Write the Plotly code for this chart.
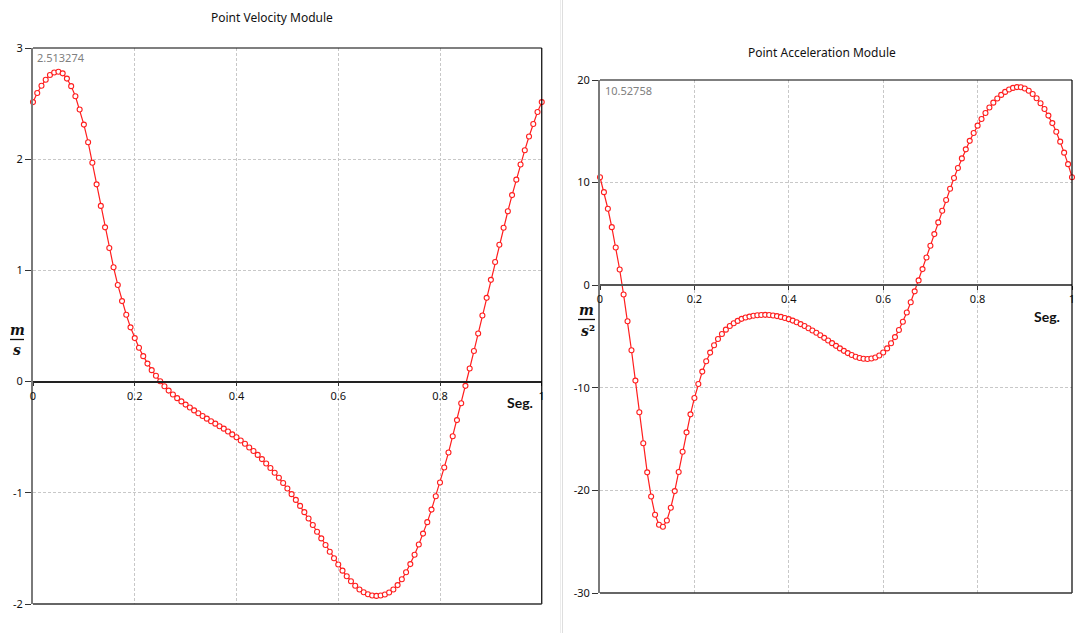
import plotly.graph_objects as go

W, H = 1076, 633

# ---------------- data ----------------
n_steps = 120
time_s = [i / n_steps for i in range(n_steps + 1)]

velocity = [
    2.513274, 2.595, 2.660, 2.715, 2.757, 2.780, 2.787, 2.772, 2.725, 2.657,
    2.566, 2.447, 2.311, 2.153, 1.968, 1.774, 1.580, 1.387, 1.202, 1.028,
    0.869, 0.724, 0.601, 0.488, 0.391, 0.304, 0.229, 0.162, 0.103, 0.052,
    0.003, -0.042, -0.081, -0.116, -0.149, -0.178, -0.207, -0.233, -0.259, -0.284,
    -0.310, -0.333, -0.356, -0.378, -0.401, -0.423, -0.449, -0.475, -0.501, -0.530,
    -0.559, -0.592, -0.624, -0.659, -0.697, -0.736, -0.777, -0.820, -0.865, -0.912,
    -0.961, -1.012, -1.064, -1.118, -1.174, -1.231, -1.290, -1.350, -1.410, -1.470,
    -1.530, -1.589, -1.645, -1.700, -1.750, -1.796, -1.836, -1.869, -1.894, -1.912,
    -1.923, -1.927, -1.924, -1.914, -1.897, -1.870, -1.830, -1.778, -1.714, -1.641,
    -1.557, -1.465, -1.367, -1.264, -1.151, -1.031, -0.907, -0.772, -0.638, -0.492,
    -0.346, -0.195, -0.038, 0.118, 0.275, 0.433, 0.595, 0.753, 0.915, 1.076,
    1.231, 1.383, 1.532, 1.677, 1.816, 1.952, 2.081, 2.204, 2.317, 2.424,
    2.513274,
]

acceleration = [
    10.52758, 9.07, 7.45, 5.66, 3.67, 1.53, -0.91, -3.51, -6.34, -9.30,
    -12.39, -15.41, -18.24, -20.59, -22.37, -23.35, -23.54, -22.93, -21.69, -20.07,
    -18.21, -16.23, -14.34, -12.59, -10.99, -9.63, -8.42, -7.41, -6.57, -5.85,
    -5.24, -4.75, -4.33, -3.97, -3.71, -3.48, -3.28, -3.15, -3.06, -2.98,
    -2.93, -2.90, -2.89, -2.91, -2.95, -3.01, -3.09, -3.19, -3.31, -3.45,
    -3.61, -3.79, -3.98, -4.19, -4.41, -4.64, -4.88, -5.13, -5.39, -5.65,
    -5.91, -6.16, -6.40, -6.62, -6.81, -6.97, -7.09, -7.17, -7.19, -7.15,
    -7.04, -6.85, -6.56, -6.16, -5.66, -5.06, -4.36, -3.56, -2.66, -1.66,
    -0.60, 0.47, 1.57, 2.70, 3.84, 4.98, 6.12, 7.26, 8.30, 9.40,
    10.45, 11.43, 12.36, 13.24, 14.07, 14.84, 15.55, 16.20, 16.79, 17.32,
    17.79, 18.20, 18.55, 18.84, 19.07, 19.23, 19.31, 19.30, 19.17, 18.95,
    18.63, 18.22, 17.73, 17.17, 16.53, 15.80, 14.96, 13.99, 12.92, 11.80,
    10.52758,
]

x_ticks = [0, 0.2, 0.4, 0.6, 0.8, 1]
x_tick_labels = ["0", "0.2", "0.4", "0.6", "0.8", "1"]
vel_ticks = [-2, -1, 0, 1, 2, 3]
vel_tick_labels = ["-2", "-1", "0", "1", "2", "3"]
acc_ticks = [-30, -20, -10, 0, 10, 20]
acc_tick_labels = ["-30", "-20", "-10", "0", "10", "20"]

title_left = "Point Velocity Module"
title_right = "Point Acceleration Module"
first_vel_label = "2.513274"
first_acc_label = "10.52758"
x_unit = "Seg."

# ---------------- helpers (layout only) ----------------
def px(x):
    return x / W

def py(y):
    return 1 - y / H

RED = "rgb(255,30,30)"
GRID = "#c8c8c8"
TICKFONT = dict(family="Noto Sans, DejaVu Sans, sans-serif", size=11, color="#111")

fig = go.Figure()

marker = dict(symbol="circle", size=5, color="white", line=dict(color=RED, width=1.1))

fig.add_trace(go.Scatter(x=time_s, y=velocity, mode="lines+markers",
                         line=dict(color=RED, width=1.2), marker=marker,
                         xaxis="x", yaxis="y", cliponaxis=False, showlegend=False))
fig.add_trace(go.Scatter(x=time_s, y=acceleration, mode="lines+markers",
                         line=dict(color=RED, width=1.2), marker=marker,
                         xaxis="x2", yaxis="y2", cliponaxis=False, showlegend=False))

# panel geometry in pixels
L = dict(x0=33, x1=541.75, y_top=48, y_bot=604, ymin=-2, ymax=3)
R = dict(x0=600, x1=1072, y_top=80, y_bot=593, ymin=-30, ymax=20)

def zero_pos(p):
    frac = (0 - p["ymin"]) / (p["ymax"] - p["ymin"])
    y_px = p["y_bot"] - frac * (p["y_bot"] - p["y_top"])
    return py(y_px)

def xaxis_cfg(p, linecolor):
    return dict(
        domain=[px(p["x0"]), px(p["x1"])], range=[0, 1],
        anchor="free", position=zero_pos(p), automargin=False,
        showline=True, linecolor=linecolor, linewidth=1.5,
        ticks="outside", ticklen=4, tickcolor="#333", tickwidth=1,
        tickvals=x_ticks, ticktext=x_tick_labels, tickfont=TICKFONT,
        showgrid=True, gridcolor=GRID, griddash="3px,2px", gridwidth=1,
        zeroline=False, fixedrange=True,
    )

def yaxis_cfg(p, ticks, labels, anchor):
    return dict(
        domain=[py(p["y_bot"]), py(p["y_top"])], range=[p["ymin"], p["ymax"]],
        anchor=anchor, automargin=False, showline=True, linecolor="#7a7a7a", linewidth=2,
        ticks="outside", ticklen=6, tickcolor="#333", tickwidth=1,
        tickvals=ticks, ticktext=labels, tickfont=TICKFONT,
        showgrid=True, gridcolor=GRID, griddash="3px,2px", gridwidth=1,
        zeroline=False, fixedrange=True,
    )

shapes = []
for xr, yr in (("x", "y"), ("x2", "y2")):
    xd, yd = xr + " domain", yr + " domain"
    shapes.append(dict(type="line", xref=xd, yref=yd, x0=0, x1=1, y0=1, y1=1,
                       line=dict(color="#000", width=1.2)))
    shapes.append(dict(type="line", xref=xd, yref=yd, x0=1, x1=1, y0=0, y1=1,
                       line=dict(color="#000", width=1.2)))
    shapes.append(dict(type="line", xref=xd, yref=yd, x0=0, x1=1, y0=0, y1=0,
                       line=dict(color="#333", width=1.5)))

# separator between the two panels
shapes.append(dict(type="line", xref="paper", yref="paper", x0=px(560.5), x1=px(560.5),
                   y0=0, y1=1, line=dict(color="#ececec", width=1)))
shapes.append(dict(type="line", xref="paper", yref="paper", x0=px(562.5), x1=px(562.5),
                   y0=0, y1=1, line=dict(color="#dedede", width=1)))

# fraction bars for units
shapes.append(dict(type="line", xref="paper", yref="paper", x0=px(10), x1=px(24),
                   y0=py(339.5), y1=py(339.5), line=dict(color="#111", width=1.3)))
shapes.append(dict(type="line", xref="paper", yref="paper", x0=px(578), x1=px(595),
                   y0=py(319.5), y1=py(319.5), line=dict(color="#111", width=1.3)))

TITLEFONT = dict(family="Noto Sans, DejaVu Sans, sans-serif", size=12, color="#111")
UNITFONT = dict(family="DejaVu Serif, Liberation Serif, serif", size=14, color="#111")
SEGFONT = dict(family="Lato, Open Sans, sans-serif", size=14, color="#111")
VALFONT = dict(family="Noto Sans, DejaVu Sans, sans-serif", size=11, color="#808080")

def ann(text, x, y, font, xanchor="center", yanchor="middle"):
    return dict(text=text, x=px(x), y=py(y), xref="paper", yref="paper",
                showarrow=False, font=font, xanchor=xanchor, yanchor=yanchor)

annotations = [
    ann(title_left, 272, 18, TITLEFONT),
    ann(title_right, 822, 52, TITLEFONT),
    ann(first_vel_label, 35, 58, VALFONT, xanchor="left"),
    ann(first_acc_label, 603, 90, VALFONT, xanchor="left"),
    ann("<b><i>m</i></b>", 17, 330, UNITFONT),
    ann("<b><i>s</i></b>", 17, 350, UNITFONT),
    ann("<b><i>m</i></b>", 586.5, 310, UNITFONT),
    ann("<b><i>s</i>²</b>", 588, 331, UNITFONT),
    ann("<b>" + x_unit + "</b>", 520, 402, SEGFONT),
    ann("<b>" + x_unit + "</b>", 1047, 316, SEGFONT),
]

fig.update_layout(
    width=W, height=H, margin=dict(l=0, r=0, t=0, b=0, pad=0),
    paper_bgcolor="white", plot_bgcolor="white",
    xaxis=xaxis_cfg(L, "#222"),
    yaxis=yaxis_cfg(L, vel_ticks, vel_tick_labels, "x"),
    xaxis2=xaxis_cfg(R, "#555"),
    yaxis2=yaxis_cfg(R, acc_ticks, acc_tick_labels, "x2"),
    shapes=shapes, annotations=annotations,
    showlegend=False, hovermode=False,
)

fig.write_html("out.html", config={"displayModeBar": False})
